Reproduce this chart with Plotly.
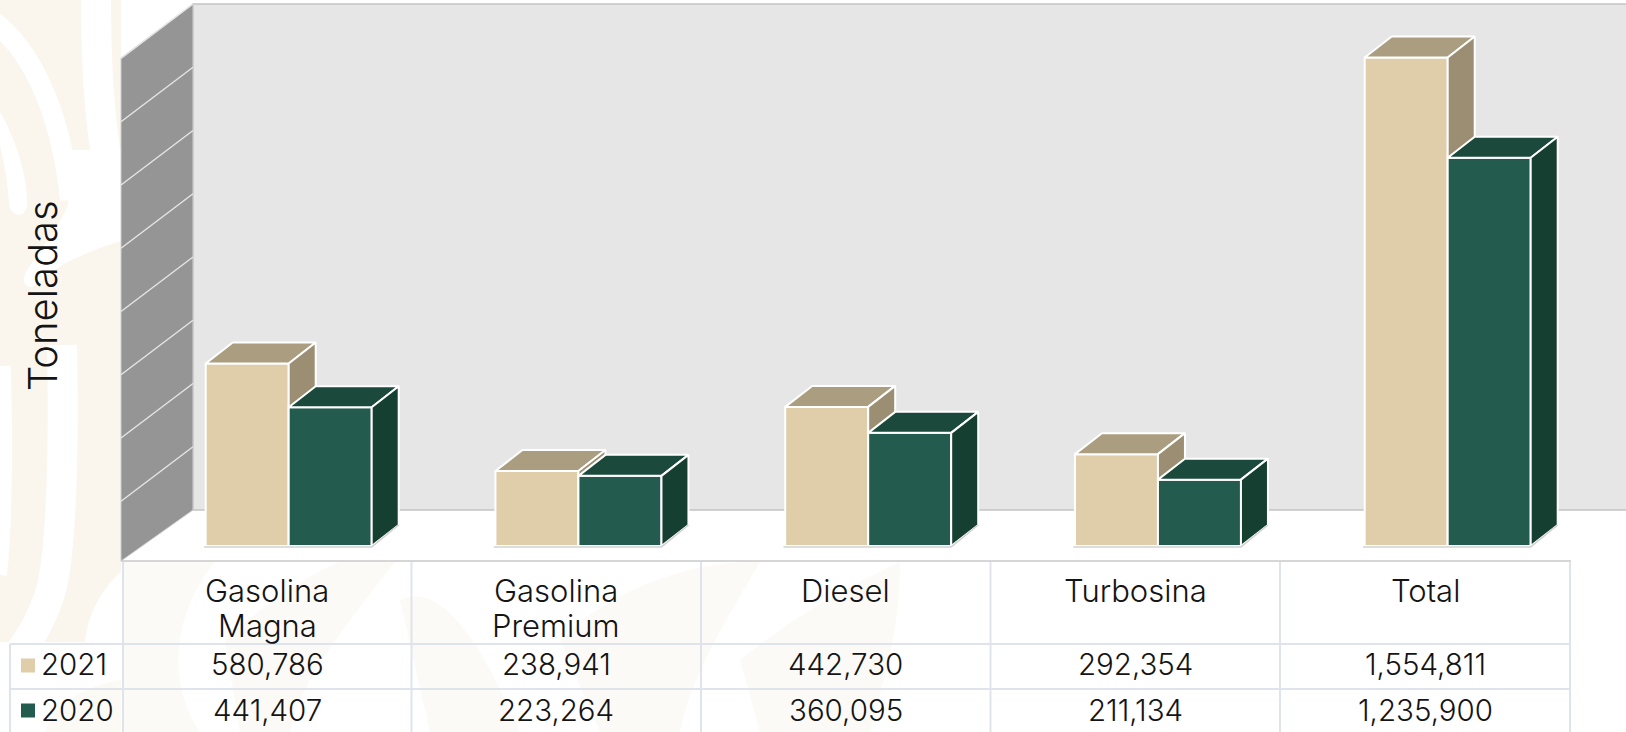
import plotly.graph_objects as go

categories = ["Gasolina<br>Magna", "Gasolina<br>Premium", "Diesel", "Turbosina", "Total"]
values_2021 = [580786, 238941, 442730, 292354, 1554811]
values_2020 = [441407, 223264, 360095, 211134, 1235900]
series_names = ["2021", "2020"]
axis_ticks = [0, 200000, 400000, 600000, 800000, 1000000, 1200000, 1400000, 1600000]
axis_title = "Toneladas"

W, H = 1626, 732
FONT = "Inter, 'Noto Sans', sans-serif"
TXT = "#141414"
C21 = dict(front="#DFCEA9", top="#AB9E80", side="#9B8E72")
C20 = dict(front="#235B4E", top="#1B4A3C", side="#153F30")

# axis calibration (page pixels)
Y0 = 546.0            # pixel of value 0 on the bars' front plane
PX_PER_UNIT = 488.5 / 1554811
WALL_SCALE = (506 / 1600000) / PX_PER_UNIT   # the back wall is drawn a little larger
X0, CAT = 288.7, 289.75   # pixel of group 0 centre, pixels per category
BAR_W = 83 / CAT
DX, DY = 27 / CAT, 21 / PX_PER_UNIT

def ux(px): return (px - X0) / CAT
def uy(py): return (Y0 - py) / PX_PER_UNIT
XR = [ux(0), ux(W)]
YR = [uy(H), uy(0)]
def pxx(px): return px / W
def pxy(py): return 1 - py / H

traces = []

def poly(xs, ys, color, axes, line="#FFFFFF", lw=2):
    return go.Scatter(x=xs, y=ys, mode="lines", fill="toself", fillcolor=color,
                      line=dict(color=line, width=lw), hoverinfo="skip",
                      showlegend=False, xaxis=axes[0], yaxis=axes[1])

# walls on the base subplot
base = ("x", "y")
traces.append(poly([ux(193), ux(W + 5), ux(W + 5), ux(193), ux(193)],
                   [uy(510), uy(510), uy(4), uy(4), uy(510)], "#E6E6E6", base, "#C4C4C4", 1.5))
traces.append(poly([ux(121), ux(193), ux(193), ux(121), ux(121)],
                   [uy(561), uy(510), uy(4), uy(58), uy(561)], "#959595", base, "#D0D0D0", 1))
for t in axis_ticks[1:]:
    yb = uy(510) + t * WALL_SCALE
    traces.append(go.Scatter(x=[ux(121), ux(193)], y=[yb - 54.5 / PX_PER_UNIT, yb], mode="lines",
                             line=dict(color="#E4E4E4", width=1.5), hoverinfo="skip",
                             showlegend=False, xaxis="x", yaxis="y"))

def add_series(name, values, left_offset, colors, axes):
    traces.append(go.Bar(x=list(range(len(values))), y=values, width=BAR_W, offset=left_offset,
                         marker=dict(color=colors["front"], line=dict(color="#FFFFFF", width=2)),
                         name=name, showlegend=False, hoverinfo="skip", xaxis=axes[0], yaxis=axes[1]))
    for i, v in enumerate(values):
        l, r = i + left_offset, i + left_offset + BAR_W
        traces.append(poly([l, l + DX, r + DX, r, l], [v, v + DY, v + DY, v, v], colors["top"], axes))
        traces.append(poly([r, r + DX, r + DX, r, r], [v, v + DY, DY, 0, v], colors["side"], axes))

add_series(series_names[0], values_2021, -BAR_W, C21, ("x2", "y2"))
add_series(series_names[1], values_2020, 0.0, C20, ("x3", "y3"))

# grey base line under each bar group
for i in range(len(values_2021)):
    traces.append(go.Scatter(x=[i - BAR_W - 0.006, i + BAR_W, i + BAR_W + DX], y=[-3000, -3000, DY],
                             mode="lines", line=dict(color="#D2D2D2", width=1.5), hoverinfo="skip",
                             showlegend=False, xaxis="x3", yaxis="y3"))

fig = go.Figure(traces)

# decorative page background
BG = "#FAF6EE"

def P(*nums):
    out = []
    for tok in nums:
        if isinstance(tok, str):
            out.append(tok)
        else:
            out.append(f"{pxx(tok[0]):.5f},{pxy(tok[1]):.5f}")
    return " ".join(out)

def curve(d, **kw):
    s = dict(type="path", path=d, xref="paper", yref="paper", layer="below")
    s.update(kw)
    return s

shapes = [curve(P("M", (0, 0), "L", (121, 0), "L", (121, 572), "C", (100, 590), (88, 615), (85, 642),
                  "L", (0, 642), "Z"), fillcolor=BG, line_width=0)]
clear = dict(fillcolor="rgba(0,0,0,0)")
for d, w in [
    (P("M", (-8, 20), "C", (25, 45), (60, 100), (70, 200)), 20),
    (P("M", (96, -8), "C", (96, 60), (98, 120), (112, 190)), 30),
    (P("M", (4, 366), "C", (6, 450), (6, 520), (0, 575)), 14),
    (P("M", (62, 345), "C", (64, 450), (62, 520), (55, 570), "C", (50, 610), (30, 640), (0, 680)), 30),
]:
    shapes.append(curve(d, line=dict(color="#FFFFFF", width=w), **clear))
# tapered white lobes with rounded tips
for d in [
    P("M", (0, 112), "C", (14, 135), (28, 175), (27, 205), "C", (26, 218), (12, 218), (9, 205),
      "C", (8, 180), (3, 160), (0, 145), "Z"),
    P("M", (66, 150), "L", (125, 150), "L", (125, 240), "C", (90, 250), (55, 265), (38, 284),
      "C", (26, 292), (20, 282), (27, 270), "C", (40, 250), (60, 225), (68, 205), "Z"),
]:
    shapes.append(curve(d, fillcolor="#FFFFFF", line_width=0))
shapes.append(curve(P("M", (45, 732), "C", (55, 700), (90, 685), (121, 680), "L", (121, 732), "Z"),
                    fillcolor=BG, opacity=0.6, line_width=0))
for d in [
    P("M", (123, 562), "L", (215, 562), "C", (175, 610), (165, 680), (200, 732), "L", (123, 732), "Z"),
    P("M", (225, 640), "C", (280, 590), (320, 570), (340, 562), "L", (395, 562), "C", (350, 620), (300, 680), (290, 732), "L", (240, 732), "Z"),
    P("M", (400, 600), "C", (440, 580), (480, 640), (520, 732), "L", (430, 732), "Z"),
    P("M", (560, 640), "C", (610, 590), (690, 560), (760, 562), "C", (720, 630), (690, 680), (680, 732), "L", (600, 732), "Z"),
    P("M", (740, 660), "C", (790, 620), (840, 590), (900, 562), "C", (900, 640), (880, 690), (870, 732), "L", (760, 732), "Z"),
]:
    shapes.append(curve(d, fillcolor=BG, opacity=0.55, line_width=0))

# table grid
GRID = "#DFE4EC"
col_edges = [123, 411.5, 701, 990.5, 1280, 1570]
def seg(x0, y0, x1, y1, color=GRID, width=2):
    return dict(type="line", xref="paper", yref="paper", x0=pxx(x0), x1=pxx(x1), y0=pxy(y0), y1=pxy(y1),
                line=dict(color=color, width=width))
for xe in col_edges:
    shapes.append(seg(xe, 562, xe, 732))
shapes.append(seg(10, 644, 10, 732))
shapes.append(seg(10, 644, 1570, 644))
shapes.append(seg(10, 689, 1570, 689))
shapes.append(seg(121, 561, 1571, 561, "#C8C8C8", 1.5))

# legend swatches
for yc, c in [(665.5, C21["front"]), (710.5, C20["front"])]:
    shapes.append(dict(type="rect", xref="paper", yref="paper", x0=pxx(21), x1=pxx(35),
                       y0=pxy(yc - 7), y1=pxy(yc + 7), fillcolor=c, line_width=0))

ann = []
def text(px, py, s, size=29.5, anchor="center", angle=0):
    ann.append(dict(x=pxx(px), y=pxy(py), xref="paper", yref="paper", text=s, showarrow=False,
                    xanchor=anchor, yanchor="middle", textangle=angle,
                    font=dict(family=FONT, size=size, color=TXT, weight=300)))

centers = [(col_edges[i] + col_edges[i + 1]) / 2 for i in range(5)]
for i, c in enumerate(categories):
    for j, part in enumerate(c.split("<br>")):
        text(centers[i], 590 + 35 * j, part, size=31)
    text(centers[i], 664, f"{values_2021[i]:,}")
    text(centers[i], 710, f"{values_2020[i]:,}")
text(39, 664, series_names[0], anchor="left")
text(39, 710, series_names[1], anchor="left")
text(42, 296, axis_title, size=40, angle=-90)

ax = dict(visible=False, fixedrange=True)
fig.update_layout(
    width=W, height=H, margin=dict(l=0, r=0, t=0, b=0),
    paper_bgcolor="#FFFFFF", plot_bgcolor="rgba(0,0,0,0)", showlegend=False,
    xaxis=dict(range=XR, **ax), yaxis=dict(range=YR, **ax),
    xaxis2=dict(range=XR, overlaying="x", **ax), yaxis2=dict(range=YR, overlaying="y", **ax),
    xaxis3=dict(range=XR, overlaying="x", **ax), yaxis3=dict(range=YR, overlaying="y", **ax),
    shapes=shapes, annotations=ann, hovermode=False,
)
fig.write_html("out.html", config=dict(displayModeBar=False),
               post_script="document.body.style.margin='0';document.body.style.overflow='hidden';")
